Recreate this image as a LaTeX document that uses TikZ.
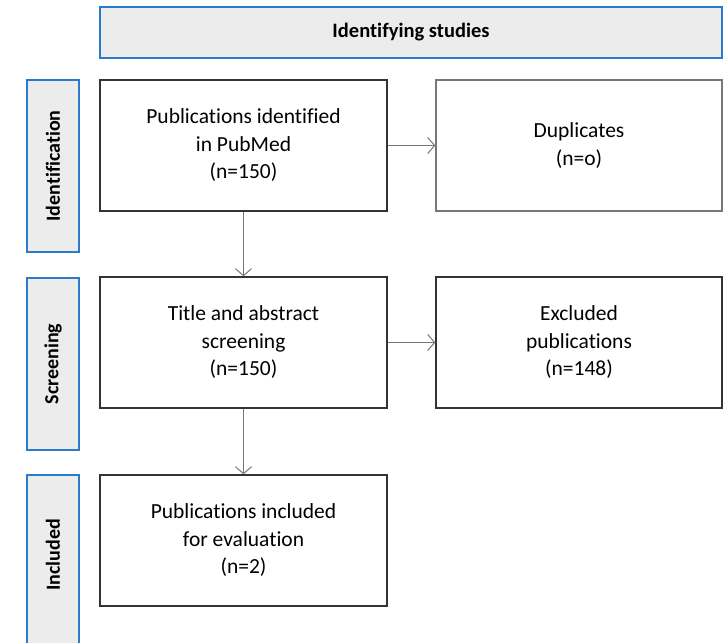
\documentclass[tikz,border=0pt]{standalone}
\usepackage{fontspec}
\setmainfont{Carlito}[Ligatures=NoCommon]
\usetikzlibrary{arrows.meta}
\definecolor{hdrfill}{HTML}{ECECEC}
\definecolor{hdrline}{HTML}{2C7BCB}
\definecolor{boxline}{HTML}{333333}
\definecolor{arrline}{HTML}{777777}
\begin{document}
\begin{tikzpicture}[x=1pt,y=-1pt,
  hdr/.style={draw=hdrline, fill=hdrfill, line width=1.2pt, inner sep=0pt},
  sidelbl/.style={hdr},
  sidetext/.style={rotate=90, font=\fontsize{20}{24}\selectfont\bfseries},
  mainbox/.style={draw=boxline, line width=1.3pt, minimum width=287pt, minimum height=131pt, align=center, inner sep=0pt, font=\fontsize{21.5}{27.5}\selectfont},
  sidebox/.style={mainbox, minimum width=286pt},
  flow/.style={draw=arrline, line width=1pt, -{Straight Barb[length=7pt,width=16pt]}}
]
\useasboundingbox (0,0) rectangle (724,643);
% header
\node[hdr, minimum width=622pt, minimum height=51pt, font=\fontsize{20.5}{24}\selectfont\bfseries] (head) at (411,32.5) {Identifying studies};
% side labels
\node[sidelbl, minimum width=52pt, minimum height=172pt] (lid) at (53,166) {};
\node[sidetext] (lidt) at (lid.center) {Identification};
\node[sidelbl, minimum width=52pt, minimum height=172pt] (lsc) at (53,364) {};
\node[sidetext] (lsct) at (lsc.center) {Screening};
\draw[draw=hdrline, fill=hdrfill, line width=1.2pt] (27,650) -- (27,475) -- (79,475) -- (79,650);
\coordinate (linc) at (53,555);
\node[sidetext] (linct) at (linc) {Included};
% main boxes
\node[mainbox] (pub) at (243.5,145.5) {Publications identified\\in PubMed\\(n=150)};
\node[mainbox] (scr) at (243.5,342.5) {Title and abstract\\screening\\(n=150)};
\node[mainbox] (inc) at (243.5,540.5) {Publications included\\for evaluation\\(n=2)};
\node[sidebox, draw=arrline] (dup) at (579,145.5) {Duplicates\\(n=o)};
\node[sidebox] (exc) at (579,342.5) {Excluded\\publications\\(n=148)};
% connectors
\draw[flow] (pub) -- (scr);
\draw[flow] (scr) -- (inc);
\draw[flow] (pub) -- (dup);
\draw[flow] (scr) -- (exc);
\end{tikzpicture}
\end{document}
